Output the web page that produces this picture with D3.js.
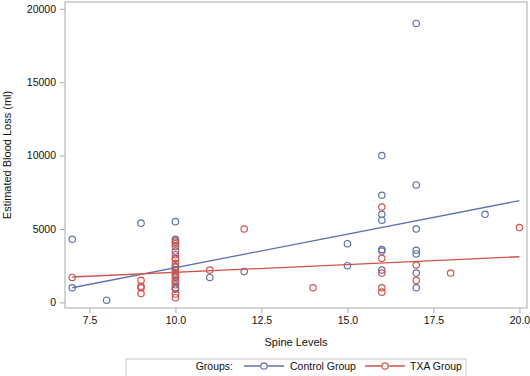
<!DOCTYPE html>
<html><head><meta charset="utf-8">
<script src="https://cdn.jsdelivr.net/npm/d3@7"></script>
<style>body{margin:0;background:#fff}svg{display:block}</style>
</head><body>
<script>
// ---- data ----
const controlLevels = [7,7,8,9,10,10,10,10,10,10,10,10,10,10,10,10,10,11,12,15,15,16,16,16,16,16,16,16,17,17,17,17,17,17,17,19];
const controlEBL    = [4300,1000,150,5400,5500,4300,4100,3500,3000,2450,2200,2000,1800,1500,1200,900,1000,1700,2100,4000,2500,10000,7300,6000,5600,3600,3500,2200,19000,8000,5000,3550,3300,2000,1000,6000];
const txaLevels = [7,9,9,9,9,10,10,10,10,10,10,10,10,10,10,10,10,10,10,11,12,14,16,16,16,16,16,17,17,18,20];
const txaEBL    = [1700,1500,1100,1000,600,4200,4000,3800,3250,2950,2650,2400,2200,1900,1700,1400,1000,570,320,2200,5000,1000,6500,3000,2000,1000,700,2550,1500,2000,5100];
const fitLevels = [7,20];
const controlFit = [1000,6930];
const txaFit = [1730,3110];
const xTicks = [7.5,10,12.5,15,17.5,20];
const yTicks = [0,5000,10000,15000,20000];
const groups = ["Control Group","TXA Group"];
const colors = ["#6170aa","#cf544c"];

const W=530,H=376;
const svg=d3.select("body").append("svg").attr("width",W).attr("height",H)
  .style("font-family","'Liberation Sans',Arial,sans-serif");
const L=65,R=527,T=2,B=308;
const x=d3.scaleLinear().domain([6.79,20.22]).range([L,R]);
const y=d3.scaleLinear().domain([-380,20460]).range([B,T]);

// axes
const xa=svg.append("g").attr("transform",`translate(0,${B})`)
  .call(d3.axisBottom(x).tickValues(xTicks).tickFormat(d3.format(".1f")).tickSizeOuter(0).tickSize(5).tickPadding(4));
const ya=svg.append("g").attr("transform",`translate(${L},0)`)
  .call(d3.axisLeft(y).tickValues(yTicks).tickFormat(d=>d).tickSizeOuter(0).tickSize(5).tickPadding(4));
[xa,ya].forEach(a=>{
  a.select(".domain").remove();
  a.selectAll("line").attr("stroke","#a8a8a8");
  a.selectAll("text").attr("fill","#111").style("font-size","10.5px").style("font-family","'Liberation Sans',Arial,sans-serif");
});

// frame
svg.append("rect").attr("x",L).attr("y",T).attr("width",R-L).attr("height",B-T)
  .attr("fill","none").attr("stroke","#b8b8b8").attr("stroke-width",1.2);

// labels
svg.append("text").attr("x",(L+R)/2).attr("y",346).attr("text-anchor","middle")
  .style("font-size","11px").attr("fill","#111").text("Spine Levels");
svg.append("text").attr("transform",`translate(11,${(T+B)/2}) rotate(-90)`).attr("text-anchor","middle")
  .style("font-size","11px").attr("fill","#111").text("Estimated Blood Loss (ml)");

// points
const sets=[[controlLevels,controlEBL],[txaLevels,txaEBL]];
sets.forEach((s,gi)=>{
  svg.append("g").selectAll("circle").data(s[0].map((v,i)=>[v,s[1][i]])).join("circle")
    .attr("cx",d=>x(d[0])).attr("cy",d=>y(d[1])).attr("r",3.2)
    .attr("fill","none").attr("stroke",colors[gi]).attr("stroke-width",1.2);
});
// fit lines
[controlFit,txaFit].forEach((f,gi)=>{
  svg.append("path").datum(fitLevels.map((v,i)=>[v,f[i]]))
    .attr("d",d3.line().x(d=>x(d[0])).y(d=>y(d[1])))
    .attr("stroke",colors[gi]).attr("stroke-width",1.3).attr("fill","none");
});

// legend
const lg=svg.append("g");
lg.append("rect").attr("x",126).attr("y",359).attr("width",340).attr("height",18)
  .attr("fill","#fff").attr("stroke","#c8c8c8");
lg.append("text").attr("x",233).attr("y",370).attr("text-anchor","end")
  .style("font-size","10.5px").attr("fill","#111").text("Groups:");
const items=[{x0:244,tx:290},{x0:365,tx:410}];
items.forEach((it,i)=>{
  lg.append("line").attr("x1",it.x0).attr("x2",it.x0+40).attr("y1",366).attr("y2",366)
    .attr("stroke",colors[i]).attr("stroke-width",1.3);
  lg.append("circle").attr("cx",it.x0+20).attr("cy",366).attr("r",3.2)
    .attr("fill","#fff").attr("stroke",colors[i]).attr("stroke-width",1.2);
  lg.append("text").attr("x",it.tx).attr("y",370).style("font-size","10.5px").attr("fill","#111").text(groups[i]);
});
</script>
</body></html>
